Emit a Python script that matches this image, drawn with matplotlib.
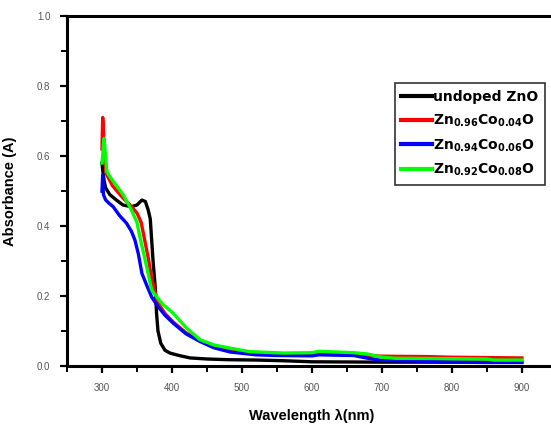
import matplotlib
matplotlib.use("Agg")
import matplotlib.pyplot as plt
from matplotlib.ticker import MultipleLocator

plt.rcParams['font.family'] = ['Liberation Sans', 'DejaVu Sans']
plt.rcParams['mathtext.default'] = 'regular'

# --- Daten ---
wl_zno = [300, 301, 303, 305, 311, 320, 330, 342, 350, 357, 362, 366, 369, 371, 373,
          376, 378, 380, 384, 390, 397, 410, 426, 450, 480, 521, 560, 600, 700, 800, 900]
a_zno = [0.58, 0.56, 0.53, 0.51, 0.49, 0.475, 0.46, 0.455, 0.46, 0.474, 0.47, 0.446, 0.42, 0.36, 0.30,
         0.227, 0.15, 0.10, 0.065, 0.045, 0.037, 0.03, 0.023, 0.02, 0.018, 0.017, 0.015, 0.012, 0.011, 0.011, 0.011]

wl_co04 = [300, 301, 302, 303, 306, 315, 330, 340, 350, 356, 361, 366, 371, 376, 380, 390,
           402, 420, 440, 460, 483, 520, 560, 600, 650, 680, 700, 760, 800, 850, 900]
a_co04 = [0.62, 0.71, 0.68, 0.62, 0.55, 0.515, 0.48, 0.46, 0.437, 0.41, 0.36, 0.31, 0.25, 0.21, 0.18, 0.15,
          0.125, 0.095, 0.072, 0.057, 0.045, 0.038, 0.035, 0.034, 0.032, 0.03, 0.028, 0.027, 0.025, 0.024, 0.023]

wl_co06 = [300, 301, 302, 305, 310, 316, 325, 335, 342, 347, 352, 357, 364, 371, 380, 390,
           402, 420, 440, 460, 483, 520, 550, 600, 610, 660, 680, 700, 750, 800, 850, 900]
a_co06 = [0.50, 0.546, 0.49, 0.475, 0.465, 0.455, 0.43, 0.408, 0.385, 0.36, 0.32, 0.265, 0.23, 0.197, 0.17, 0.145,
          0.122, 0.092, 0.07, 0.052, 0.04, 0.032, 0.03, 0.029, 0.032, 0.03, 0.022, 0.016, 0.014, 0.011, 0.01, 0.01]

wl_co08 = [300, 301, 302, 303, 305, 307, 315, 330, 342, 350, 354, 362, 371, 385, 402, 420,
           440, 460, 483, 511, 559, 600, 610, 660, 680, 700, 720, 800, 850, 860, 900]
a_co08 = [0.58, 0.60, 0.63, 0.65, 0.60, 0.554, 0.53, 0.49, 0.446, 0.41, 0.37, 0.30, 0.217, 0.18, 0.15, 0.11,
          0.075, 0.06, 0.051, 0.041, 0.037, 0.038, 0.042, 0.038, 0.034, 0.025, 0.022, 0.021, 0.02, 0.017, 0.017]

labels = ["undoped ZnO",
          r"Zn$_{0.96}$Co$_{0.04}$O",
          r"Zn$_{0.94}$Co$_{0.06}$O",
          r"Zn$_{0.92}$Co$_{0.08}$O"]
colors = ["black", "#ff0000", "#0000ff", "#00ff00"]

# --- Plot ---
fig = plt.figure(figsize=(5.51, 4.24), dpi=100)
ax = fig.add_axes([0.1216, 0.1368, 0.889, 0.8255])

ax.plot(wl_zno, a_zno, color=colors[0], lw=2.4, label=labels[0])
ax.plot(wl_co04, a_co04, color=colors[1], lw=2.4, label=labels[1])
ax.plot(wl_co06, a_co06, color=colors[2], lw=2.4, label=labels[2])
ax.plot(wl_co08, a_co08, color=colors[3], lw=2.4, label=labels[3])

ax.set_xlim(250, 950)
ax.set_ylim(0, 1.0)
ax.xaxis.set_minor_locator(MultipleLocator(50))
ax.yaxis.set_major_locator(MultipleLocator(0.2))
ax.yaxis.set_minor_locator(MultipleLocator(0.1))
ax.set_xticks(range(300, 1000, 100))
ax.set_xticklabels([str(v) for v in range(300, 1000, 100)])

for s in ax.spines.values():
    s.set_linewidth(2.2)
ax.spines['right'].set_visible(False)

ax.tick_params(which='major', direction='out', length=5, width=1.6,
               labelsize=7, labelcolor='#555555', pad=7)
ax.tick_params(which='minor', direction='out', length=4, width=1.4)

ax.set_xlabel("Wavelength λ(nm)", fontsize=10.5, fontweight='bold', labelpad=12)
ax.set_ylabel("Absorbance (A)", fontsize=10.5, fontweight='bold', labelpad=14)

leg = ax.legend(loc='upper right', bbox_to_anchor=(0.989, 0.804),
                bbox_transform=fig.transFigure, borderaxespad=0,
                fancybox=False, edgecolor='#333333', framealpha=1,
                prop={'family': 'DejaVu Sans', 'size': 10, 'weight': 'bold'},
                handlelength=2.2, handletextpad=0.05, labelspacing=0.6,
                borderpad=0.5)
leg.get_frame().set_linewidth(1.2)
for line in leg.get_lines():
    line.set_linewidth(3)

fig.savefig("out.png", dpi=100)
